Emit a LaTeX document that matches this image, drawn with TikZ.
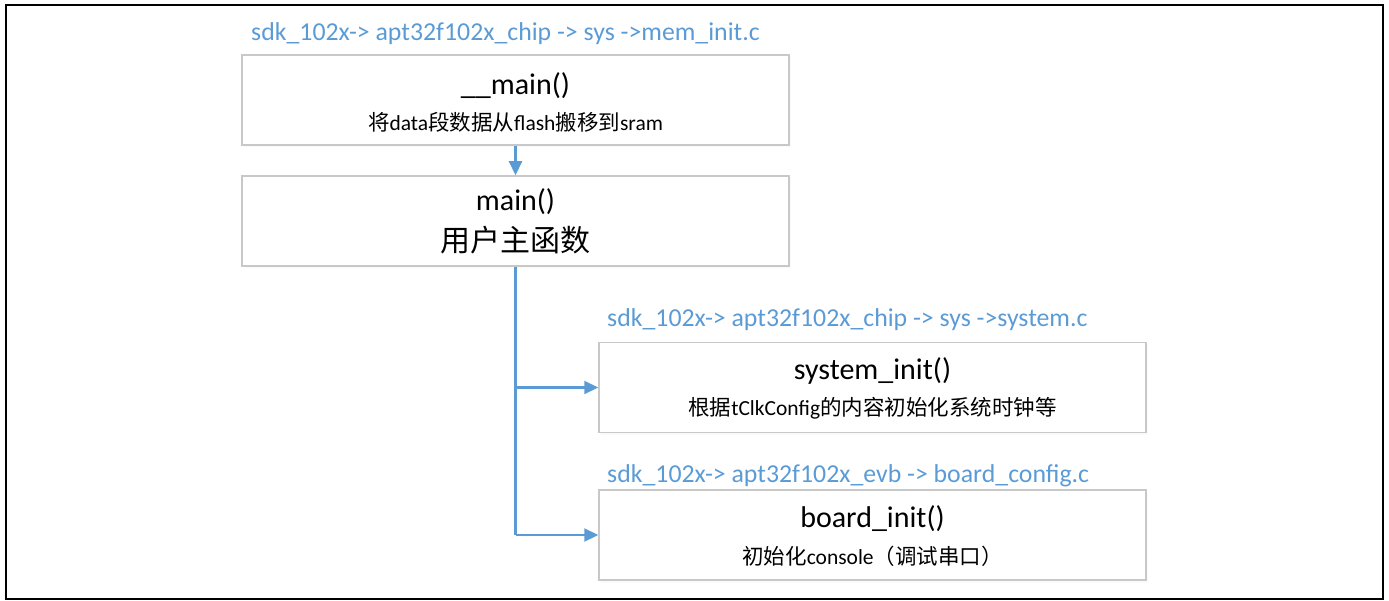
\documentclass[tikz,border=0pt]{standalone}
\usepackage{fontspec}
\setmainfont{Carlito}
\newfontfamily\cjk{Noto Sans CJK SC}
\usetikzlibrary{arrows.meta,shadows,positioning}
\definecolor{lineblue}{RGB}{91,155,213}
\definecolor{boxgray}{RGB}{200,200,200}
\begin{document}
\begin{tikzpicture}[x=1pt,y=-1pt,
  box/.style={draw=boxgray,line width=1.5pt,fill=white,minimum width=547pt,minimum height=90pt,inner sep=0pt,
    drop shadow={opacity=0.10,shadow xshift=1.5pt,shadow yshift=-2.5pt,fill=lineblue!40}},
  path/.style={text=lineblue,font=\fontsize{25.8}{28}\selectfont,anchor=west,inner sep=0pt},
  title/.style={font=\fontsize{30}{34}\selectfont,inner sep=0pt},
  sub/.style={font=\fontsize{21.5}{24}\selectfont,inner sep=0pt},
  conn/.style={draw=lineblue,line width=2.2pt},
  tip/.style={-{Triangle[length=14pt,width=13pt]}}]
\useasboundingbox (0,0) rectangle (1389,601);
\draw[line width=2pt] (6,5) rectangle (1383,599);

\node[box] (b1) at (515.5,100) {};
\node[box] (b2) at (515.5,221) {};
\node[box] (b3) at (872.5,387.5) {};
\node[box] (b4) at (872.5,535) {};

\node[path] (p1) at (251,34) {sdk\_102x-> apt32f102x\_chip -> sys ->mem\_init.c};
\node[path] (p3) at (607,320) {sdk\_102x-> apt32f102x\_chip -> sys ->system.c};
\node[path] (p4) at (607,476) {sdk\_102x-> apt32f102x\_evb -> board\_config.c};

\node[title] (t1) at ([yshift=14.5pt]b1.center) {\_\_main()};
\node[sub] (s1) at ([yshift=-22pt]b1.center) {{\cjk 将}data{\cjk 段数据从}flash{\cjk 搬移到}sram};
\node[title] (t2) at ([yshift=19.5pt]b2.center) {main()};
\node[title] (s2) at ([yshift=-19pt]b2.center) {\cjk 用户主函数};
\node[title] (t3) at ([yshift=17pt]b3.center) {system\_init()};
\node[sub] (s3) at ([yshift=-21pt]b3.center) {{\cjk 根据}tClkConfig{\cjk 的内容初始化系统时钟等}};
\node[title] (t4) at ([yshift=16.5pt]b4.center) {board\_init()};
\node[sub] (s4) at ([yshift=-21pt]b4.center) {{\cjk 初始化}console{\cjk （调试串口）}};

\coordinate (j3) at (b2.south |- b3.west);
\coordinate (j4) at (b2.south |- b4.west);
\draw[conn,tip] (b1.south) -- (b2.north);
\draw[conn] (b2.south) -- (j4);
\draw[conn,tip] (j3) -- (b3.west);
\draw[conn,tip] (j4) -- (b4.west);
\end{tikzpicture}
\end{document}
